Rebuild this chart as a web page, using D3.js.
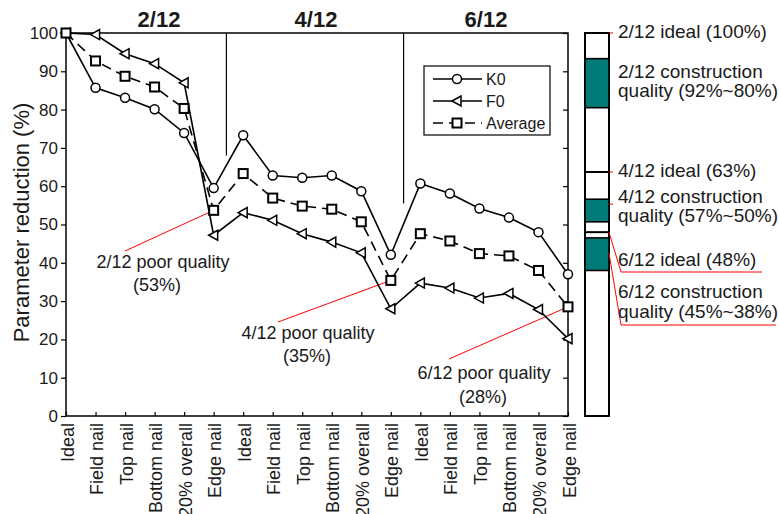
<!DOCTYPE html>
<html>
<head>
<meta charset="utf-8">
<script src="https://cdn.jsdelivr.net/npm/d3@7"></script>
<style>
  body { margin: 0; background: #fff; }
  svg text { font-family: 'Liberation Sans', Arial, sans-serif; fill: #1a1a1a; }
</style>
</head>
<body>
<div id="chart"></div>
<script>
const groups = ['2/12', '4/12', '6/12'];
const categories = ['Ideal', 'Field nail', 'Top nail', 'Bottom nail', '20% overall', 'Edge nail'];
const k0 = [100, 85.7, 83.1, 80.1, 73.9, 59.5, 73.3, 62.8, 62.2, 62.8, 58.7, 42.1, 60.7, 58.1, 54.2, 51.8, 48.0, 37.0];
const f0 = [100, 99.6, 94.6, 92.0, 87.0, 47.2, 53.1, 51.1, 47.6, 45.4, 42.6, 28.0, 34.7, 33.4, 30.8, 32.0, 27.8, 20.2];
const average = [100, 92.7, 88.7, 85.9, 80.3, 53.7, 63.3, 56.9, 54.8, 54.0, 50.7, 35.4, 47.6, 45.7, 42.4, 41.8, 38.0, 28.5];
const yTicks = [0, 10, 20, 30, 40, 50, 60, 70, 80, 90, 100];
const poorLabels = ['2/12 poor quality', '4/12 poor quality', '6/12 poor quality'];
const poorValues = ['(53%)', '(35%)', '(28%)'];
const idealLevels = [100, 63.7, 48];
const constructionBands = [[93.3, 80.5], [56.6, 50.7], [46.5, 38.0]];
const barLabels = [
  ['2/12 ideal (100%)'],
  ['2/12 construction', 'quality (92%~80%)'],
  ['4/12 ideal (63%)'],
  ['4/12 construction', 'quality (57%~50%)'],
  ['6/12 ideal (48%)'],
  ['6/12 construction', 'quality (45%~38%)']
];

const width = 779, height = 514;
const plotLeft = 66, plotRight = 568, plotTop = 33, plotBottom = 416;

const labels = groups.flatMap(() => categories);
const idx = d3.range(labels.length);

const svg = d3.select('#chart').append('svg')
  .attr('width', width).attr('height', height);

const x = d3.scalePoint().domain(idx).range([plotLeft, plotRight]);
const y = d3.scaleLinear().domain([0, 100]).range([plotBottom, plotTop]);

// frame
svg.append('rect')
  .attr('x', plotLeft).attr('y', plotTop)
  .attr('width', plotRight - plotLeft).attr('height', plotBottom - plotTop)
  .attr('fill', 'none').attr('stroke', '#000').attr('stroke-width', 1.5);

// left axis
svg.append('g')
  .attr('transform', `translate(${plotLeft},0)`)
  .call(d3.axisLeft(y).tickValues(yTicks).tickSize(5).tickSizeOuter(0).tickPadding(3))
  .call(g => g.select('.domain').remove())
  .call(g => g.selectAll('.tick line').attr('stroke', '#000').attr('stroke-width', 1.2))
  .call(g => g.selectAll('.tick text').style('font-size', '17px').attr('fill', '#1a1a1a'));

// right axis, ticks inward
svg.append('g')
  .attr('transform', `translate(${plotRight},0)`)
  .call(d3.axisLeft(y).tickValues(yTicks).tickSize(5).tickSizeOuter(0).tickFormat(''))
  .call(g => g.select('.domain').remove())
  .call(g => g.selectAll('.tick line').attr('stroke', '#000').attr('stroke-width', 1.2));

// bottom axis, ticks inward, rotated labels
svg.append('g')
  .attr('transform', `translate(0,${plotBottom})`)
  .call(d3.axisBottom(x).tickSizeInner(-4).tickSizeOuter(0).tickFormat(i => labels[i]))
  .call(g => g.select('.domain').remove())
  .call(g => g.selectAll('.tick line').attr('stroke', '#000').attr('stroke-width', 1.2))
  .call(g => g.selectAll('.tick text')
    .style('font-size', '18px')
    .attr('fill', '#1a1a1a')
    .attr('text-anchor', 'end')
    .attr('transform', 'rotate(-90)')
    .attr('x', -7).attr('y', 7).attr('dy', null));

// y title
svg.append('text')
  .attr('transform', `translate(29,${(plotTop + plotBottom) / 2 - 2}) rotate(-90)`)
  .attr('text-anchor', 'middle')
  .style('font-size', '22px')
  .text('Parameter reduction (%)');

// group titles and separators
const titleX = [159, 316, 486];
svg.selectAll('.group-title').data(groups).enter().append('text')
  .attr('x', (d, i) => titleX[i]).attr('y', 27)
  .attr('text-anchor', 'middle')
  .style('font-size', '22px').style('font-weight', 'bold')
  .text(d => d);

const sepBottom = [68, 55.5];
sepBottom.forEach((v, i) => {
  const sx = (x(i * 6 + 5) + x(i * 6 + 6)) / 2 - 2;
  svg.append('line')
    .attr('x1', sx).attr('x2', sx).attr('y1', plotTop).attr('y2', y(v))
    .attr('stroke', '#000').attr('stroke-width', 1.2);
});

// poor-quality callouts
const poorPos = [
  { tx: 163, ty: 268, vx: 157, vy: 291, lx: 125, ly: 251 },
  { tx: 308, ty: 339, vx: 307, vy: 362, lx: 278, ly: 322 },
  { tx: 484, ty: 379, vx: 483, vy: 403, lx: 449, ly: 359 }
];
poorPos.forEach((p, i) => {
  const pi = i * 6 + 5;
  svg.append('line')
    .attr('x1', p.lx).attr('y1', p.ly).attr('x2', x(pi)).attr('y2', y(average[pi]))
    .attr('stroke', '#ff0000').attr('stroke-width', 1);
  svg.append('text').attr('x', p.tx).attr('y', p.ty).attr('text-anchor', 'middle')
    .style('font-size', '18px').text(poorLabels[i]);
  svg.append('text').attr('x', p.vx).attr('y', p.vy).attr('text-anchor', 'middle')
    .style('font-size', '18px').text(poorValues[i]);
});

// series
const line = d3.line().x((d, i) => x(i)).y(d => y(d));

function drawSeries(data, dash, marker) {
  svg.append('path')
    .datum(data)
    .attr('fill', 'none')
    .attr('stroke', '#000')
    .attr('stroke-width', 1.6)
    .attr('stroke-dasharray', dash)
    .attr('d', line);
  const g = svg.append('g');
  data.forEach((d, i) => marker(g, x(i), y(d)));
}

function circle(g, cx, cy) {
  g.append('circle').attr('cx', cx).attr('cy', cy).attr('r', 4.5)
    .attr('fill', '#fff').attr('stroke', '#000').attr('stroke-width', 1.5);
}
function triangle(g, cx, cy) {
  g.append('path')
    .attr('d', `M${cx - 5},${cy} L${cx + 4},${cy - 5} L${cx + 4},${cy + 5} Z`)
    .attr('fill', '#fff').attr('stroke', '#000').attr('stroke-width', 1.5);
}
function square(g, cx, cy) {
  g.append('rect').attr('x', cx - 4.5).attr('y', cy - 4.5).attr('width', 9).attr('height', 9)
    .attr('fill', '#fff').attr('stroke', '#000').attr('stroke-width', 2);
}

drawSeries(k0, null, circle);
drawSeries(f0, null, triangle);
drawSeries(average, '10,6', square);

// legend
const legend = svg.append('g');
legend.append('rect')
  .attr('x', 424).attr('y', 66).attr('width', 126).attr('height', 69)
  .attr('fill', '#fff').attr('stroke', '#000').attr('stroke-width', 1.2);
const legendItems = [
  { name: 'K0', dash: null, marker: circle },
  { name: 'F0', dash: null, marker: triangle },
  { name: 'Average', dash: '10,6', marker: square }
];
legendItems.forEach((d, i) => {
  const ly = 79 + i * 22;
  legend.append('line')
    .attr('x1', 433).attr('x2', 482).attr('y1', ly).attr('y2', ly)
    .attr('stroke', '#000').attr('stroke-width', 1.6)
    .attr('stroke-dasharray', d.dash);
  d.marker(legend, 457, ly);
  legend.append('text').attr('x', 486).attr('y', ly + 6)
    .style('font-size', '16px').text(d.name);
});

// right-hand quality bar
const barX = 585, barW = 24;
const bar = svg.append('g');
bar.append('rect')
  .attr('x', barX).attr('y', y(100)).attr('width', barW).attr('height', y(0) - y(100))
  .attr('fill', '#fff').attr('stroke', '#000').attr('stroke-width', 2);
bar.selectAll('.band').data(constructionBands).enter().append('rect')
  .attr('x', barX).attr('width', barW)
  .attr('y', d => y(d[0])).attr('height', d => y(d[1]) - y(d[0]))
  .attr('fill', '#007b78').attr('stroke', '#000').attr('stroke-width', 1.6);
bar.selectAll('.ideal').data(idealLevels).enter().append('line')
  .attr('x1', barX).attr('x2', barX + barW)
  .attr('y1', d => y(d)).attr('y2', d => y(d))
  .attr('stroke', '#000').attr('stroke-width', 2);

// short red ticks and leaders
[idealLevels[0], idealLevels[1], constructionBands[1][0] - 1.3].forEach(v => {
  bar.append('line')
    .attr('x1', barX + barW).attr('x2', barX + barW + 4)
    .attr('y1', y(v)).attr('y2', y(v))
    .attr('stroke', '#ff0000').attr('stroke-width', 1);
});
bar.append('polyline')
  .attr('points', `${barX + barW},${y(idealLevels[2])} 621,272 762,272`)
  .attr('fill', 'none').attr('stroke', '#ff0000').attr('stroke-width', 1);
bar.append('polyline')
  .attr('points', `${barX + barW},${y(42.5)} 621,325 776,325`)
  .attr('fill', 'none').attr('stroke', '#ff0000').attr('stroke-width', 1);

const barLabelY = [[38], [78, 97], [177], [203, 222], [266], [298, 318]];
barLabels.forEach((lines, i) => {
  lines.forEach((t, j) => {
    svg.append('text').attr('x', 618).attr('y', barLabelY[i][j])
      .style('font-size', '19px').text(t);
  });
});
</script>
</body>
</html>
